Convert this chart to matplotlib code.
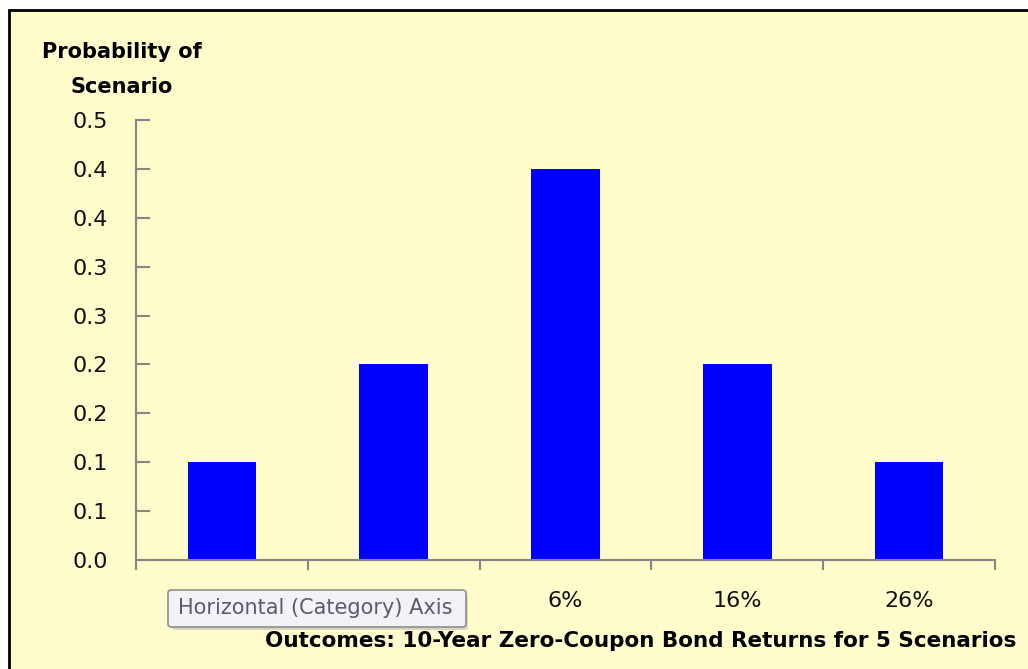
import matplotlib
matplotlib.use("Agg")
import matplotlib.pyplot as plt
from matplotlib.patches import Rectangle, FancyBboxPatch

categories = ["-14%", "-4%", "6%", "16%", "26%"]
probabilities = [0.1, 0.2, 0.4, 0.2, 0.1]
y_ticks = [0.0, 0.05, 0.10, 0.15, 0.20, 0.25, 0.30, 0.35, 0.40, 0.45]
y_tick_labels = ["0.0", "0.1", "0.1", "0.2", "0.2", "0.3", "0.3", "0.4", "0.4", "0.5"]

W, H = 1028, 669
bg = "#FFFDCC"
axis_grey = "#868686"

fig = plt.figure(figsize=(W / 100, H / 100), dpi=100, facecolor="white")

# chart area with black frame (cut off at right and bottom)
fig.patches.append(Rectangle((9 / W, -0.01), 1.05, 1 - 10 / H + 0.01,
                             transform=fig.transFigure, facecolor=bg,
                             edgecolor="black", linewidth=2, zorder=-1))

ax = fig.add_axes([136 / W, 1 - 560 / H, (995 - 136) / W, 440 / H])
ax.set_facecolor("none")
ax.set_zorder(1)

x = list(range(len(categories)))
ax.bar(x, probabilities, width=0.4, color="#0000FF", zorder=2)

ax.set_xlim(-0.5, len(categories) - 0.5)
ax.set_ylim(0, 0.45)

for side in ["top", "right"]:
    ax.spines[side].set_visible(False)
for side in ["left", "bottom"]:
    ax.spines[side].set_color(axis_grey)
    ax.spines[side].set_linewidth(1.5)

ax.set_yticks(y_ticks)
ax.set_yticklabels(y_tick_labels)
ax.tick_params(axis="y", direction="in", length=10, width=1.5, color=axis_grey,
               pad=20, labelsize=16, labelcolor="#111111")

ax.set_xticks(x)
ax.set_xticklabels(categories)
ax.set_xticks([i - 0.5 for i in range(len(categories) + 1)], minor=True)
ax.tick_params(axis="x", which="major", length=0, pad=22, labelsize=16,
               labelcolor="#111111")
ax.tick_params(axis="x", which="minor", direction="out", length=7, width=1.5,
               color=axis_grey)

fig.text(42 / W, 1 - 52 / H, "Probability of", ha="left", va="center",
         fontsize=15, fontweight="bold")
fig.text(70 / W, 1 - 87 / H, "Scenario", ha="left", va="center",
         fontsize=15, fontweight="bold")
fig.text(1016 / W, 1 - 641 / H,
         "Outcomes: 10-Year Zero-Coupon Bond Returns for 5 Scenarios",
         ha="right", va="center", fontsize=15.5, fontweight="bold")

# tooltip overlay
fig.patches.append(FancyBboxPatch((172 / W, 1 - 630 / H), 296 / W, 36 / H,
                                  boxstyle="round,pad=0,rounding_size=0.004",
                                  transform=fig.transFigure, facecolor="#bdbdbd",
                                  edgecolor="none", alpha=0.6, zorder=5))
fig.patches.append(FancyBboxPatch((168 / W, 1 - 627 / H), 298 / W, 37 / H,
                                  boxstyle="round,pad=0,rounding_size=0.004",
                                  transform=fig.transFigure, facecolor="#F2F2F8",
                                  edgecolor="#8f8f8f", linewidth=1.2, zorder=6))
fig.text(178 / W, 1 - 608 / H, "Horizontal (Category) Axis", ha="left",
         va="center", fontsize=15, color="#5c5c66", zorder=7)

fig.savefig("out.png", dpi=100, facecolor=fig.get_facecolor())
